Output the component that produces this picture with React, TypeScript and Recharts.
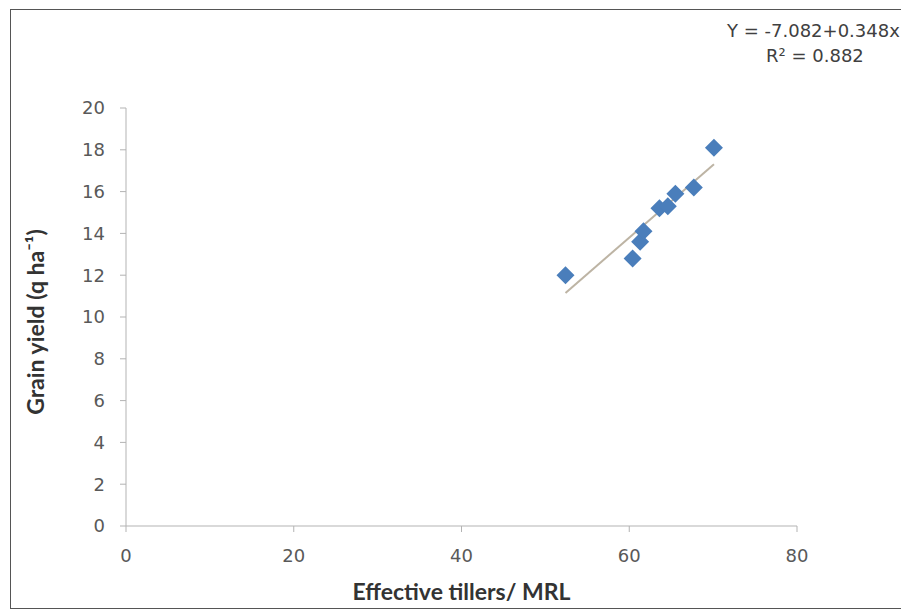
import { ScatterChart, Scatter, XAxis, YAxis, Label } from "recharts";

// Effective tillers / MRL vs grain yield (q ha-1)
const tillers = [52.4, 60.4, 61.3, 61.7, 63.6, 64.6, 65.5, 67.7, 70.1];
const grainYield = [12.0, 12.8, 13.6, 14.1, 15.2, 15.3, 15.9, 16.2, 18.1];

const xTicks = [0, 20, 40, 60, 80];
const yTicks = [0, 2, 4, 6, 8, 10, 12, 14, 16, 18, 20];

const intercept = -7.082;
const slope = 0.348;
const rSquared = 0.882;

const points = tillers.map((x, i) => ({ x, y: grainYield[i] }));
const xMin = Math.min(...tillers);
const xMax = Math.max(...tillers);
const trend = [xMin, xMax].map((x) => ({ x, y: intercept + slope * x }));

const numFont = "'DejaVu Sans', sans-serif";
const labelFont = "Lato, 'Open Sans', sans-serif";

function Diamond(props: any) {
    const { cx, cy } = props;
    const r = 9;
    return (
        <polygon
            points={`${cx},${cy - r} ${cx + r},${cy} ${cx},${cy + r} ${cx - r},${cy}`}
            fill="#4a7ebb"
        />
    );
}

export default function App() {
    return (
        <div style={{ position: "relative", width: 901, height: 604, overflow: "hidden" }}>
            {/* frame */}
            <div
                style={{
                    position: "absolute",
                    left: 2,
                    top: 1,
                    width: 940,
                    height: 598,
                    border: "1px solid #555",
                }}
            />

            {/* regression text */}
            <div
                style={{
                    position: "absolute",
                    left: 719,
                    top: 10,
                    fontSize: 18,
                    fontFamily: numFont,
                    color: "#404040",
                    whiteSpace: "nowrap",
                    lineHeight: "25px",
                }}
            >
                <div>Y = {intercept}+{slope}x</div>
                <div style={{ marginLeft: 39 }}>R² = {rSquared}</div>
            </div>

            <ScatterChart
                width={901}
                height={604}
                margin={{ top: 100, right: 112, left: 0, bottom: 0 }}
                style={{ position: "absolute", left: 0, top: 0 }}
            >
                <XAxis
                    type="number"
                    dataKey="x"
                    domain={[0, 80]}
                    ticks={xTicks}
                    height={86}
                    stroke="#b3b3b3"
                    tickSize={6}
                    tickMargin={17}
                    tick={{ fill: "#595959", fontSize: 18, fontFamily: numFont }}
                >
                    <Label
                        value="Effective tillers/ MRL"
                        position="insideBottom"
                        offset={12}
                        style={{ fill: "#333", fontSize: 23, fontWeight: 700, fontFamily: labelFont }}
                    />
                </XAxis>
                <YAxis
                    type="number"
                    dataKey="y"
                    domain={[0, 20]}
                    ticks={yTicks}
                    width={118}
                    stroke="#b3b3b3"
                    tickSize={6}
                    tickMargin={15}
                    tick={{ fill: "#595959", fontSize: 18, fontFamily: numFont }}
                >
                    <Label
                        value="Grain yield (q ha⁻¹)"
                        angle={-90}
                        position="insideLeft"
                        offset={28}
                        dy={5}
                        style={{ textAnchor: "middle", fill: "#333", fontSize: 23, fontWeight: 700, fontFamily: labelFont }}
                    />
                </YAxis>
                <Scatter
                    data={trend}
                    line={{ stroke: "#bdb4a4", strokeWidth: 2 }}
                    shape={() => null}
                    isAnimationActive={false}
                />
                <Scatter data={points} shape={<Diamond />} isAnimationActive={false} />
            </ScatterChart>
        </div>
    );
}
